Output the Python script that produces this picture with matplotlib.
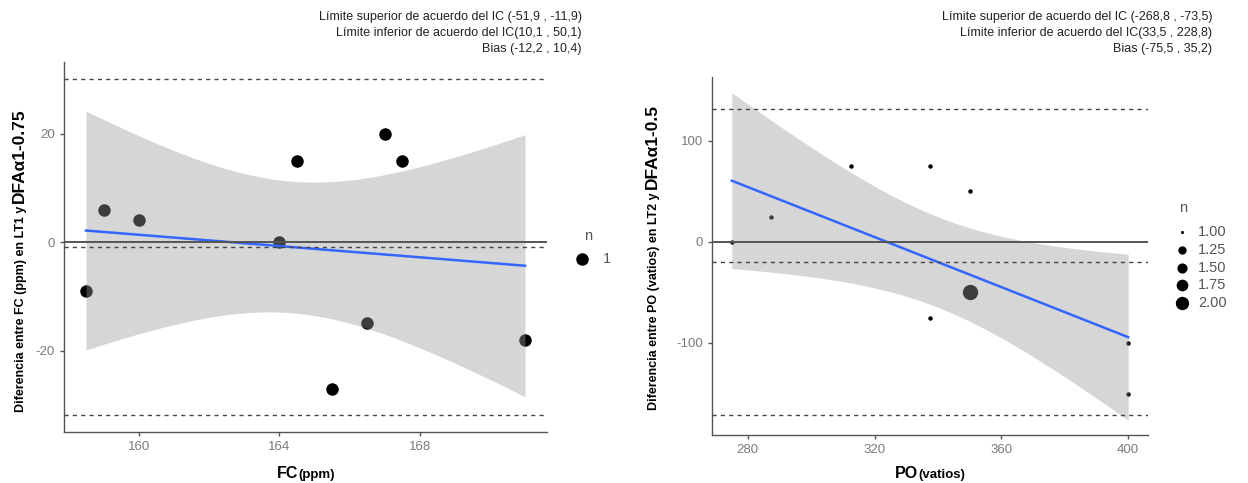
import numpy as np
import matplotlib
matplotlib.use("Agg")
import matplotlib.pyplot as plt
from matplotlib import font_manager

plt.rcParams["axes.unicode_minus"] = False

# Bland-Altman data
fc_mean = [158.5, 159, 160, 164, 164.5, 165.5, 166.5, 167, 167.5, 171]
fc_diff = [-9, 6, 4, 0, 15, -27, -15, 20, 15, -18]

po_mean = [275, 287.5, 312.5, 337.5, 337.5, 350, 350, 350, 400, 400]
po_diff = [0, 25, 75, 75, -75, 50, -50, -50, -100, -150]

fc_notes = ["Límite superior de acuerdo del IC (-51,9 , -11,9)",
            "Límite inferior de acuerdo del IC(10,1 , 50,1)",
            "Bias (-12,2 , 10,4)"]
po_notes = ["Límite superior de acuerdo del IC (-268,8 , -73,5)",
            "Límite inferior de acuerdo del IC(33,5 , 228,8)",
            "Bias (-75,5 , 35,2)"]

T975 = 2.306  # t quantile, df = 8


def pick_font(names):
    for nm in names:
        try:
            font_manager.findfont(nm, fallback_to_default=False)
            return nm
        except Exception:
            pass
    return "DejaVu Sans"


narrow = pick_font(["Liberation Sans Narrow", "Liberation Sans"])
sans = pick_font(["Liberation Sans", "DejaVu Sans"])

W, H = 1248, 483
fig = plt.figure(figsize=(W / 100, H / 100), dpi=100)
fig.patch.set_facecolor("white")


def px_axes(l, t, r, b):
    return fig.add_axes([l / W, 1 - b / H, (r - l) / W, (b - t) / H])


def draw_panel(ax, x, y, xlim, ylim, xticks, yticks, sizes):
    x = np.array(x, float)
    y = np.array(y, float)
    n = len(x)
    bias = y.mean()
    sd = y.std(ddof=1)

    # points (counted duplicates -> bigger dot)
    pts = {}
    for xi, yi in zip(x, y):
        pts[(xi, yi)] = pts.get((xi, yi), 0) + 1
    for (xi, yi), c in pts.items():
        ax.plot(xi, yi, "o", color="black", ms=sizes[c], mec="none", zorder=2)

    # lm smooth with 95% band
    b1, b0 = np.polyfit(x, y, 1)
    xs = np.linspace(x.min(), x.max(), 80)
    fit = b0 + b1 * xs
    resid = y - (b0 + b1 * x)
    s = np.sqrt((resid ** 2).sum() / (n - 2))
    se = s * np.sqrt(1 / n + (xs - x.mean()) ** 2 / ((x - x.mean()) ** 2).sum())
    ax.fill_between(xs, fit - T975 * se, fit + T975 * se, color="#999999",
                    alpha=0.4, lw=0, zorder=3)
    ax.plot(xs, fit, color="#3366FF", lw=1.8, zorder=4)

    ax.axhline(0, color="#555555", lw=1.4, zorder=5)
    for v in (bias, bias + 1.96 * sd, bias - 1.96 * sd):
        ax.axhline(v, color="#444444", lw=1.0, ls=(0, (3, 3)), zorder=5)

    ax.set_xlim(xlim)
    ax.set_ylim(ylim)
    ax.set_xticks(xticks)
    ax.set_yticks(yticks)
    for sp in ("top", "right"):
        ax.spines[sp].set_visible(False)
    for sp in ("left", "bottom"):
        ax.spines[sp].set_color("#555555")
        ax.spines[sp].set_linewidth(1.0)
    ax.tick_params(colors="#555555", labelcolor="#7a7a7a", labelsize=9.5,
                   length=3, width=1)
    for lab in ax.get_xticklabels() + ax.get_yticklabels():
        lab.set_family(sans)


ax1 = px_axes(64, 62, 547, 432)
draw_panel(ax1, fc_mean, fc_diff, (157.875, 171.625), (-35.0, 33.2),
           [160, 164, 168], [-20, 0, 20], {1: 9})

ax2 = px_axes(712, 77, 1148, 435)
draw_panel(ax2, po_mean, po_diff, (268.75, 406.25), (-191, 163),
           [280, 320, 360, 400], [-100, 0, 100], {1: 3.2, 2: 11})

# legends
fig.text(588 / W, 1 - 236 / H, "n", ha="center", va="center", fontsize=10.5,
         color="#555555", family=sans)
fig.lines.append(plt.Line2D([582 / W], [1 - 259 / H], marker="o", ms=9,
                            color="black", mec="none", transform=fig.transFigure))
fig.text(603 / W, 1 - 259 / H, "1", ha="left", va="center", fontsize=10.5,
         color="#555555", family=sans)

fig.text(1183 / W, 1 - 208 / H, "n", ha="center", va="center", fontsize=10.5,
         color="#555555", family=sans)
leg_n = ["1.00", "1.25", "1.50", "1.75", "2.00"]
leg_ms = [2.2, 6, 7.3, 8.4, 9.6]
for i, (lab, ms) in enumerate(zip(leg_n, leg_ms)):
    yy = 1 - (232 + 17.8 * i) / H
    fig.lines.append(plt.Line2D([1182 / W], [yy], marker="o", ms=ms,
                                color="black", mec="none",
                                transform=fig.transFigure))
    fig.text(1198 / W, yy, lab, ha="left", va="center", fontsize=10.5,
             color="#555555", family=sans)

# notes at the top
for i, (a, b) in enumerate(zip(fc_notes, po_notes)):
    yy = 1 - (17 + 16.2 * i) / H
    fig.text(582 / W, yy, a, ha="right", va="center", fontsize=9,
             color="#222222", family=narrow)
    fig.text(1212 / W, yy, b, ha="right", va="center", fontsize=9,
             color="#222222", family=narrow)

# x labels: big bold name + smaller bold unit
def two_part_x(cx, cy, big, small):
    t1 = fig.text(0, 0, big, fontsize=11.5, weight="bold", family=sans)
    t2 = fig.text(0, 0, small, fontsize=9.5, weight="bold", family=sans)
    fig.canvas.draw()
    r = fig.canvas.get_renderer()
    w1 = t1.get_window_extent(r).width
    w2 = t2.get_window_extent(r).width
    x0 = cx - (w1 + w2) / 2
    t1.set_position((x0 / W, 1 - cy / H))
    t2.set_position(((x0 + w1) / W, 1 - cy / H))


two_part_x(306, 478, "FC", "(ppm)")
two_part_x(930, 478, "PO", "(vatios)")

# y labels: smaller bold text, then big bold DFA part, rotated
def two_part_y(bx, y0, small, big):
    t1 = fig.text(bx / W, 1 - y0 / H, small, rotation=90, rotation_mode="anchor",
                  ha="left", va="baseline", fontsize=9, weight="bold",
                  family=sans)
    fig.canvas.draw()
    h1 = t1.get_window_extent(fig.canvas.get_renderer()).height
    fig.text(bx / W, 1 - (y0 - h1 - 3) / H, big, rotation=90,
             rotation_mode="anchor", ha="left", va="baseline", fontsize=12.5,
             weight="bold", family=sans)


two_part_y(24, 412, "Diferencia entre FC (ppm) en LT1 y", "DFAα1-0.75")
two_part_y(657, 410, "Diferencia entre PO (vatios) en LT2 y", "DFAα1-0.5")

fig.savefig("out.png", dpi=100, facecolor="white")
